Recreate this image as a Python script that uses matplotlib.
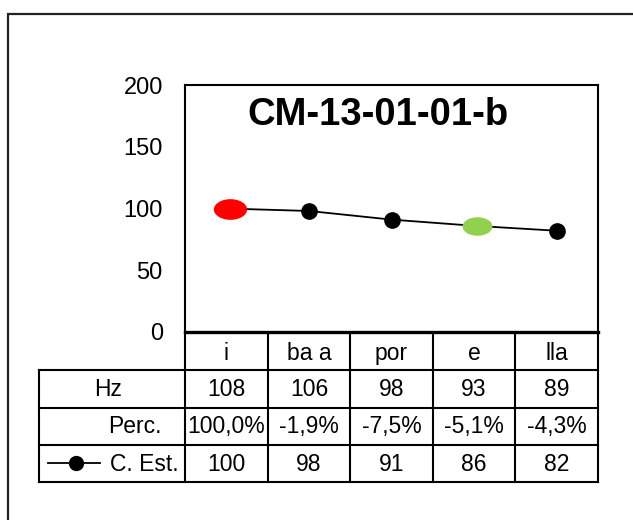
import matplotlib.pyplot as plt
from matplotlib.path import Path
from matplotlib.transforms import Affine2D
from matplotlib.patches import Rectangle

plt.rcParams['font.family'] = ['Liberation Sans', 'DejaVu Sans']

title = 'CM-13-01-01-b'
categories = ['i', 'ba a', 'por', 'e', 'lla']
hz = [108, 106, 98, 93, 89]
perc = [100.0, -1.9, -7.5, -5.1, -4.3]
c_est = [100, 98, 91, 86, 82]
row_labels = ['Hz', 'Perc.', 'C. Est.']
red_idx = 0
green_idx = 3

W, H = 633, 520
fig = plt.figure(figsize=(W / 100, H / 100), dpi=100)

# outer chart frame (only left/top edges are inside the picture)
fig.patches.append(Rectangle((8 / W, -0.2), 1.0, (H - 14) / H + 0.2,
                             transform=fig.transFigure, fill=False,
                             edgecolor='#222222', linewidth=1.6))

def fx(px):
    return px / W

def fy(py):
    return 1 - py / H

# plot area
ax = fig.add_axes([fx(185), fy(332), fx(598) - fx(185), fy(85) - fy(332)])
x = list(range(len(categories)))
ax.plot(x, c_est, color='black', linewidth=1.3, marker='o', markersize=11, zorder=3)

ellipse = Path.unit_circle().transformed(Affine2D().scale(1, 0.62))
ax.plot([x[red_idx] + 0.04], [c_est[red_idx]], linestyle='none', marker=ellipse,
        markersize=24, color='#FF0000', markeredgewidth=0, zorder=4)
ax.plot([x[green_idx] + 0.03], [c_est[green_idx]], linestyle='none', marker=ellipse,
        markersize=21.5, color='#92D050', markeredgewidth=0, zorder=4)

ax.set_xlim(-0.5, len(categories) - 0.5)
ax.set_ylim(0, 200)
ax.set_yticks([0, 50, 100, 150, 200])
ax.set_xticks([])
ax.tick_params(axis='y', length=0, pad=16, labelsize=17)
for s in ['left', 'top', 'right']:
    ax.spines[s].set_linewidth(1.5)
ax.spines['bottom'].set_linewidth(2.4)
ax.text(2.0 - 0.16, 176, title, ha='center', va='center', fontsize=27.5,
        fontweight='bold')

# data table underneath
tab = fig.add_axes([fx(39), fy(482), fx(598) - fx(39), fy(333) - fy(482)])
unit = (598 - 185) / len(categories)
left = -0.5 - (185 - 39) / unit
right = len(categories) - 0.5
tab.set_xlim(left, right)
tab.set_ylim(4, 0)
tab.axis('off')

def px2x(px):
    return -0.5 + (px - 185) / unit

lw = 1.5
for i in range(len(categories) + 1):
    tab.plot([i - 0.5, i - 0.5], [0, 4], color='black', lw=lw, clip_on=False)
tab.plot([left, left], [1, 4], color='black', lw=lw, clip_on=False)
for r in [1, 2, 3, 4]:
    tab.plot([left, right], [r, r], color='black', lw=lw, clip_on=False)

fs = 16.5
for i, c in enumerate(categories):
    tab.text(i, 0.55, c, ha='center', va='center', fontsize=fs)
    tab.text(i, 1.52, str(hz[i]), ha='center', va='center', fontsize=fs)
    tab.text(i, 2.52, f'{perc[i]:.1f}%'.replace('.', ','), ha='center',
             va='center', fontsize=fs)
    tab.text(i, 3.52, str(c_est[i]), ha='center', va='center', fontsize=fs)

tab.text(px2x(108), 1.52, row_labels[0], ha='center', va='center', fontsize=fs)
tab.text(px2x(162), 2.52, row_labels[1], ha='right', va='center', fontsize=fs)
tab.text(px2x(179), 3.52, row_labels[2], ha='right', va='center', fontsize=fs)
tab.plot([px2x(48), px2x(100)], [3.5, 3.5], color='black', lw=1.3, clip_on=False)
tab.plot([px2x(76)], [3.5], marker='o', markersize=10, color='black', clip_on=False)

fig.savefig('out.png', dpi=100)
